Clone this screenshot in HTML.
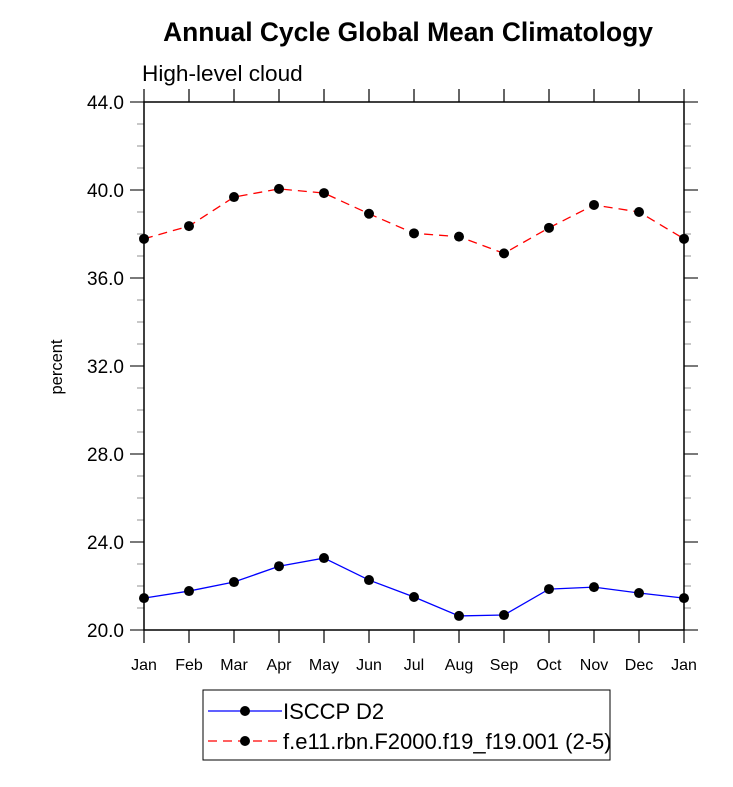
<!DOCTYPE html>
<html><head><meta charset="utf-8"><style>
body{margin:0;background:#fff;}
svg text{font-family:"Liberation Sans",sans-serif;}
</style></head><body>
<svg id="chart" width="733" height="782" xmlns="http://www.w3.org/2000/svg">
<text x="408" y="41" text-anchor="middle" font-size="26.4" font-weight="bold">Annual Cycle Global Mean Climatology</text>
<text x="142" y="81" font-size="22.6">High-level cloud</text>
<text transform="translate(62,367) rotate(-90)" text-anchor="middle" font-size="16.5">percent</text>
<g id="ticks"></g>
<g id="series"></g>
<rect x="144" y="102" width="540" height="528" fill="none" stroke="#000" stroke-width="1.5"/>
<g>
<rect x="203" y="690" width="407" height="70" fill="none" stroke="#000" stroke-width="1"/>
<line x1="208" y1="711" x2="282" y2="711" stroke="#00f" stroke-width="1.3"/>
<circle cx="245" cy="711" r="5" fill="#000"/>
<text x="283" y="719" font-size="22">ISCCP D2</text>
<line x1="208" y1="741" x2="282" y2="741" stroke="#f00" stroke-width="1.3" stroke-dasharray="9,6"/>
<circle cx="245" cy="741" r="5" fill="#000"/>
<text x="283" y="749" font-size="22">f.e11.rbn.F2000.f19_f19.001 (2-5)</text>
</g>
</svg>
<script>
const months=["Jan","Feb","Mar","Apr","May","Jun","Jul","Aug","Sep","Oct","Nov","Dec","Jan"];
const obsValues=[21.45,21.77,22.18,22.9,23.27,22.27,21.5,20.64,20.68,21.86,21.95,21.68,21.45];
const modelValues=[37.78,38.36,39.68,40.05,39.86,38.92,38.03,37.88,37.12,38.28,39.32,39.0,37.78];
const yTickLabels=["20.0","24.0","28.0","32.0","36.0","40.0","44.0"];
const X0=144,X1=684,Y0=630,Y1=102,YMIN=20,YMAX=44;
const xs=i=>X0+i*(X1-X0)/(months.length-1);
const ys=v=>Y0-(v-YMIN)*(Y0-Y1)/(YMAX-YMIN);
const NS="http://www.w3.org/2000/svg";
const T=document.getElementById('ticks'),S=document.getElementById('series');
function mk(tag,attrs,parent){const e=document.createElementNS(NS,tag);for(const k in attrs)e.setAttribute(k,attrs[k]);parent.appendChild(e);return e;}
months.forEach((m,i)=>{
 const x=xs(i);
 mk('line',{x1:x,y1:Y0,x2:x,y2:Y0+13,stroke:'#000','stroke-width':1.2},T);
 mk('line',{x1:x,y1:Y1,x2:x,y2:Y1-13,stroke:'#000','stroke-width':1.2},T);
 const t=mk('text',{x:x,y:670,'text-anchor':'middle','font-size':16},T);t.textContent=m;
 
 
});
for(let v=YMIN;v<=YMAX;v+=1){
 const y=ys(v),maj=(v-YMIN)%4===0;
 const len=maj?14:7,col=maj?'#333':'#aaa';
 mk('line',{x1:X0-len,y1:y,x2:X0,y2:y,stroke:col,'stroke-width':1.3},T);
 mk('line',{x1:X1,y1:y,x2:X1+len,y2:y,stroke:col,'stroke-width':1.3},T);
}
yTickLabels.forEach(l=>{
 const t=mk('text',{x:124,y:ys(parseFloat(l))+7,'text-anchor':'end','font-size':19},T);t.textContent=l;
 
 
});
function draw(vals,color,dash,name){
 const p=mk('polyline',{points:vals.map((v,i)=>xs(i)+','+ys(v)).join(' '),fill:'none',stroke:color,'stroke-width':1.3},S);
 if(dash)p.setAttribute('stroke-dasharray',dash);
 
 
 vals.forEach((v,i)=>{
  const c=mk('circle',{cx:xs(i),cy:ys(v),r:5,fill:'#000'},S);
  
  
 });
}
draw(obsValues,'#00f',null,'isccp');
draw(modelValues,'#f00','9,6','model');
</script>
</body></html>
